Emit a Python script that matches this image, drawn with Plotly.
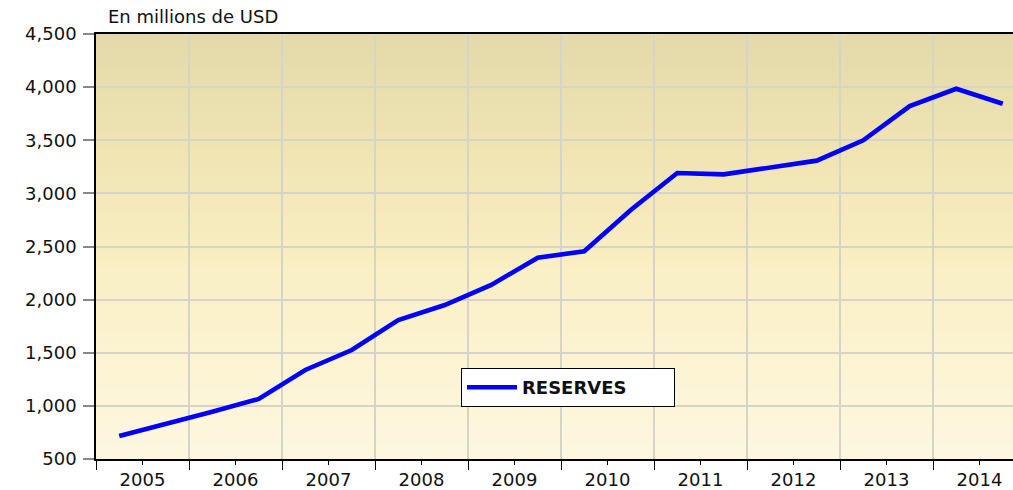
import plotly.graph_objects as go

# Semi-annual reserves, millions of USD (H1, H2 for each year)
years = [2005, 2006, 2007, 2008, 2009, 2010, 2011, 2012, 2013, 2014]
halves = [0.25, 0.75]
reserves = [716, 827, 945, 1065, 1338, 1526, 1808, 1949, 2138, 2395,
            2455, 2843, 3192, 3179, 3245, 3308, 3499, 3822, 3985, 3844]
x_pos = [y + h for y in years for h in halves]
year_labels = [str(y) for y in years]
y_ticks = [500, 1000, 1500, 2000, 2500, 3000, 3500, 4000, 4500]

fig = go.Figure()
fig.add_trace(go.Scatter(
    x=x_pos, y=reserves, mode="lines", name="RESERVES",
    line=dict(color="#0000FF", width=4.6),
))

# vertical gradient background as stacked bands
stops = [(0.0, (227, 217, 170)), (0.3, (241, 229, 180)), (0.55, (250, 239, 196)),
         (0.8, (252, 244, 212)), (1.0, (253, 247, 224))]
def col(t):
    for (t0, c0), (t1, c1) in zip(stops[:-1], stops[1:]):
        if t0 <= t <= t1:
            f = (t - t0) / (t1 - t0)
            return "rgb(%d,%d,%d)" % tuple(round(a + (b - a) * f) for a, b in zip(c0, c1))
    return "rgb(%d,%d,%d)" % stops[-1][1]
n = 60
shapes = []
for i in range(n):
    t = (i + 0.5) / n
    shapes.append(dict(type="rect", xref="x domain", yref="y domain",
                       x0=0, x1=1, y0=1 - (i + 1) / n - 0.002, y1=1 - i / n,
                       fillcolor=col(t), line=dict(width=0), layer="below"))

fig.update_layout(
    width=1013, height=490,
    margin=dict(l=96, r=0, t=34, b=31, autoexpand=False),
    paper_bgcolor="white", plot_bgcolor="#F6ECC0",
    font=dict(family="DejaVu Sans", size=18, color="#111111"),
    shapes=shapes,
    showlegend=True,
    legend=dict(orientation="h", x=(461 - 96) / 917, y=(459 - 368) / 425,
                xanchor="left", yanchor="top",
                bgcolor="white", bordercolor="black", borderwidth=1,
                itemwidth=50, entrywidth=147, entrywidthmode="pixels",
                font=dict(family="DejaVu Sans", size=18, weight="bold", color="#111111")),
    annotations=[dict(text="En millions de USD", xref="paper", yref="paper",
                      x=(106 - 96) / 917, y=1 + (34 - 17) / 425, xanchor="left", yanchor="middle",
                      showarrow=False, font=dict(family="DejaVu Sans", size=18, color="#111111"))],
)
fig.update_xaxes(
    automargin=False,
    range=[2005, 2005 + 917 / 93],
    tickmode="array", tickvals=[y + 0.5 for y in years], ticktext=year_labels,
    ticks="outside", ticklen=4, tickwidth=1, tickcolor="black",
    showgrid=False, zeroline=False,
    showline=True, linecolor="black", linewidth=1.5, mirror=True,
    minor=dict(tick0=2005, dtick=1, ticks="outside", ticklen=9, tickcolor="black",
               tickwidth=1, showgrid=True, gridcolor="#D6D3C8", gridwidth=2),
    ticklabelstandoff=0,
)
fig.update_yaxes(
    automargin=False,
    range=[500, 4500], tickmode="array", tickvals=y_ticks,
    ticktext=[f"{v:,}" for v in y_ticks],
    ticks="outside", ticklen=11, tickwidth=1.5, tickcolor="#888888",
    showgrid=True, gridcolor="#D6D3C8", gridwidth=2, zeroline=False,
    showline=True, linecolor="black", linewidth=1.5, mirror=False,
    ticklabelstandoff=3,
)
fig.write_html("out.html", config={"displayModeBar": False},
               post_script="document.body.style.margin='0';document.body.style.overflow='hidden';")
